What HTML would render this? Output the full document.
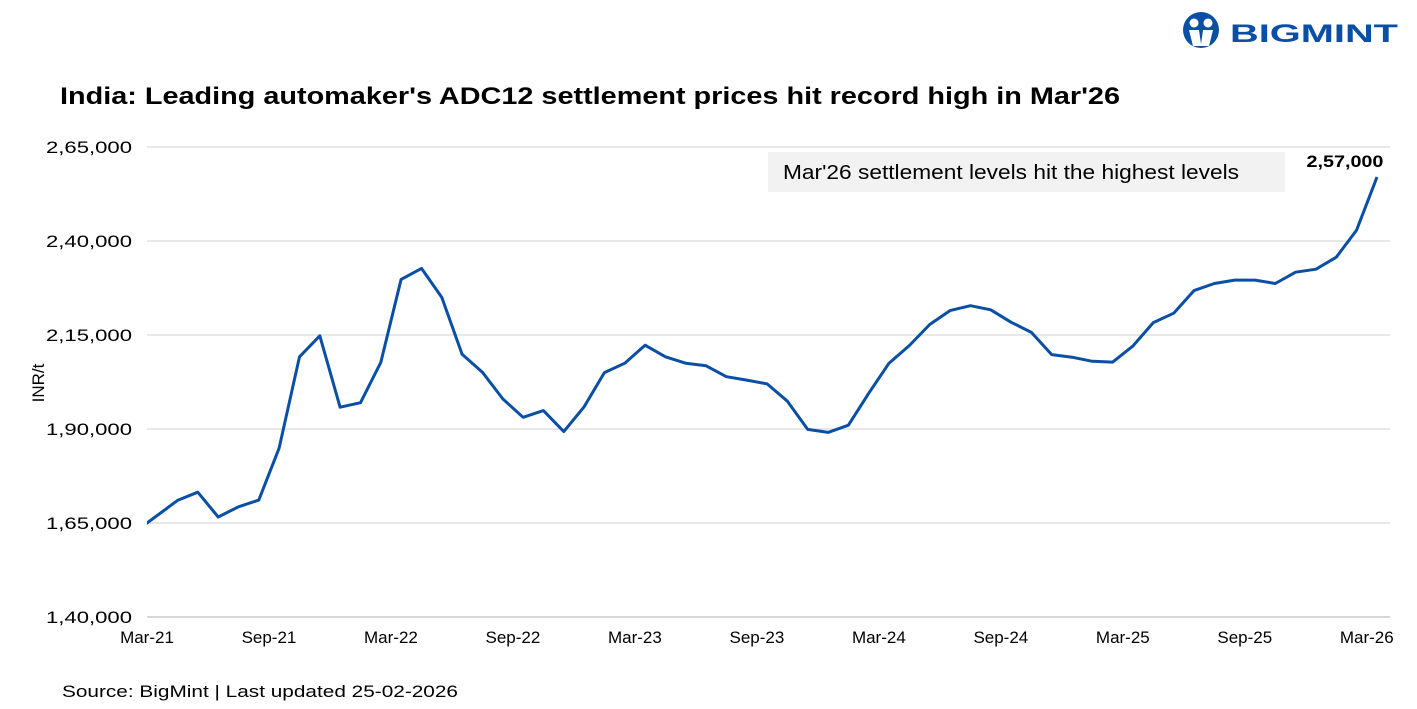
<!DOCTYPE html>
<html><head><meta charset="utf-8"><style>
body{margin:0;background:#fff;}
svg{display:block;font-family:"Liberation Sans",Arial,sans-serif;}
</style></head><body>
<svg id="chart" width="1417" height="709" viewBox="0 0 1417 709" xmlns="http://www.w3.org/2000/svg">
<g>
<circle cx="1201" cy="30" r="18" fill="#0a4fa6"/>
<circle cx="1194" cy="23" r="4.5" fill="#fff"/>
<circle cx="1208" cy="23" r="4.5" fill="#fff"/>
<path d="M1189 30 L1199 30 L1201 44 L1203 30 L1213 30 L1209 46 L1193 46 Z" fill="#fff"/>
<text x="1230" y="42" font-size="25" font-weight="bold" fill="#0a4fa6" textLength="168" lengthAdjust="spacingAndGlyphs">BIGMINT</text>
</g>
<text x="60" y="104" font-size="24" font-weight="bold" fill="#000" textLength="1060" lengthAdjust="spacingAndGlyphs">India: Leading automaker's ADC12 settlement prices hit record high in Mar'26</text>
<g id="grid"></g>
<g id="yticks"></g>
<g id="xticks"></g>
<text transform="translate(44,383) rotate(-90)" text-anchor="middle" font-size="17" fill="#000">INR/t</text>
<rect x="768" y="152" width="517" height="40" fill="#f2f2f2"/>
<text x="783" y="179" font-size="20" fill="#000" textLength="456" lengthAdjust="spacingAndGlyphs">Mar'26 settlement levels hit the highest levels</text>
<defs><clipPath id="plotclip"><rect x="147" y="100" width="1260" height="530"/></clipPath></defs>
<g id="series" clip-path="url(#plotclip)"></g>
<text id="lastlabel" font-size="17" font-weight="bold" text-anchor="middle" fill="#000" textLength="77" lengthAdjust="spacingAndGlyphs">2,57,000</text>
<text x="62" y="697" font-size="17" fill="#000" textLength="396" lengthAdjust="spacingAndGlyphs">Source: BigMint | Last updated 25-02-2026</text>
</svg>
<script>
const months = ["Feb-21","Mar-21","Apr-21","May-21","Jun-21","Jul-21","Aug-21","Sep-21","Oct-21","Nov-21","Dec-21","Jan-22","Feb-22","Mar-22","Apr-22","May-22","Jun-22","Jul-22","Aug-22","Sep-22","Oct-22","Nov-22","Dec-22","Jan-23","Feb-23","Mar-23","Apr-23","May-23","Jun-23","Jul-23","Aug-23","Sep-23","Oct-23","Nov-23","Dec-23","Jan-24","Feb-24","Mar-24","Apr-24","May-24","Jun-24","Jul-24","Aug-24","Sep-24","Oct-24","Nov-24","Dec-24","Jan-25","Feb-25","Mar-25","Apr-25","May-25","Jun-25","Jul-25","Aug-25","Sep-25","Oct-25","Nov-25","Dec-25","Jan-26","Feb-26","Mar-26"];
const prices = [163000,167000,171000,173200,166600,169300,171100,184900,209200,214800,195800,197000,207700,229800,232700,225000,209900,205100,198000,193100,194900,189300,195900,205000,207500,212300,209200,207500,206800,203900,203000,202000,197400,189900,189100,191000,199500,207500,212200,217800,221500,222800,221700,218400,215700,209800,209100,208000,207800,212100,218300,220800,226800,228700,229600,229600,228700,231700,232500,235700,242900,257000];
const yTickValues = [140000,165000,190000,215000,240000,265000];
const yTickLabels = ["1,40,000","1,65,000","1,90,000","2,15,000","2,40,000","2,65,000"];
const xTickLabels = ["Mar-21","Sep-21","Mar-22","Sep-22","Mar-23","Sep-23","Mar-24","Sep-24","Mar-25","Sep-25","Mar-26"];
const xTickOffsets = [0,6,12,18,24,30,36,42,48,54,60];

const NS="http://www.w3.org/2000/svg";
const X0=147, STEP=20.33, Y0=617, Y1=147, VMIN=140000, VMAX=265000;
function xTick(m){return X0+m*STEP;}
function xPoint(i){return X0+(i-0.5)*STEP;}
function y(v){return Y0-(v-VMIN)/(VMAX-VMIN)*(Y0-Y1);}
function mk(tag,attrs,parent){const e=document.createElementNS(NS,tag);for(const k in attrs)e.setAttribute(k,attrs[k]);parent.appendChild(e);return e;}
const grid=document.getElementById('grid'), yt=document.getElementById('yticks'), xt=document.getElementById('xticks'), ser=document.getElementById('series');
yTickValues.forEach((v,i)=>{
  const l=mk('line',{x1:X0,x2:1390,y1:y(v),y2:y(v),stroke:i===0?'#bfbfbf':'#d9d9d9','stroke-width':1.3},grid);
  
  
  const t=mk('text',{x:46,y:y(v)+6,'font-size':17,fill:'#000',textLength:86,lengthAdjust:'spacingAndGlyphs'},yt);
  t.textContent=yTickLabels[i];
  
  
});
xTickLabels.forEach((s,i)=>{
  const t=mk('text',{x:xTick(xTickOffsets[i]),y:643,'text-anchor':'middle','font-size':17,fill:'#000'},xt);
  t.textContent=s;
  
  
});
const d=prices.map((v,i)=>(i?'L':'M')+xPoint(i).toFixed(1)+' '+y(v).toFixed(1)).join(' ');
const p=mk('path',{d:d,fill:'none',stroke:'#0a4fa6','stroke-width':3,'stroke-linejoin':'round'},ser);


const last=prices.length-1, ll=document.getElementById('lastlabel');
ll.setAttribute('x',xPoint(last)-32);
ll.setAttribute('y',y(prices[last])-10);
</script>
</body></html>
